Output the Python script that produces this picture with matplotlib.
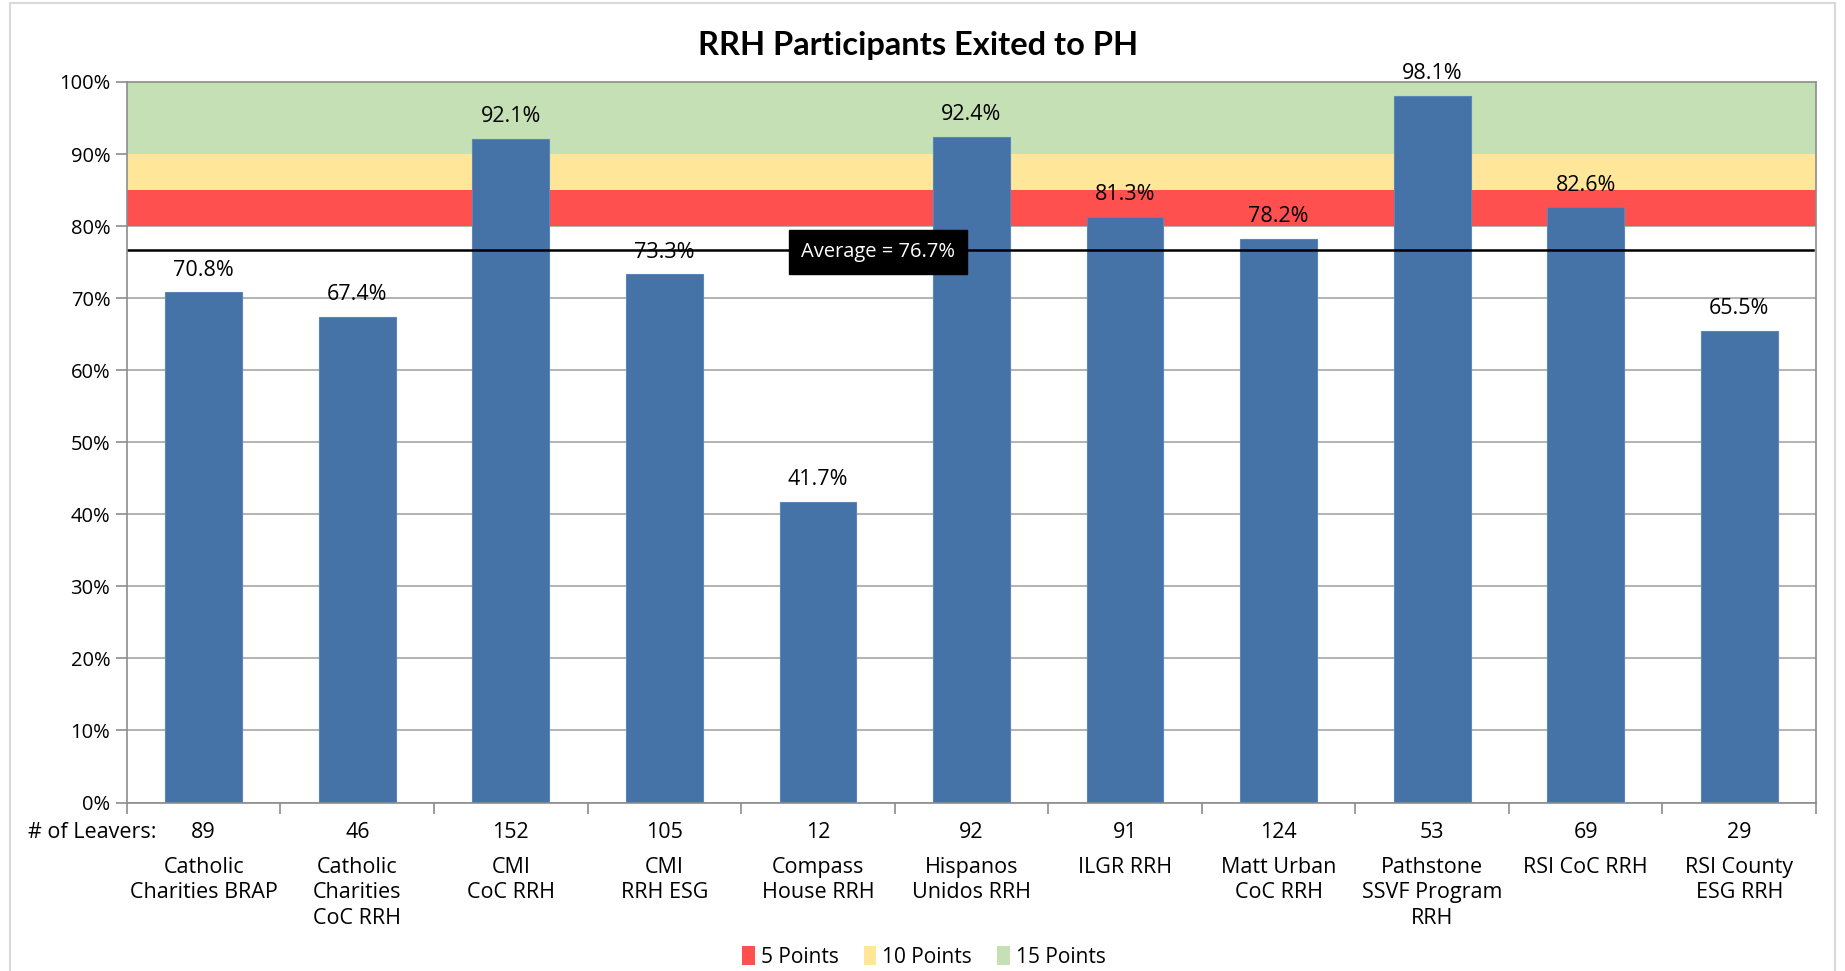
import matplotlib
matplotlib.use("Agg")
import matplotlib.pyplot as plt
from matplotlib.patches import Patch, Rectangle
from matplotlib.ticker import PercentFormatter, FixedLocator

categories = ["Catholic\nCharities BRAP", "Catholic\nCharities\nCoC RRH", "CMI\nCoC RRH",
              "CMI\nRRH ESG", "Compass\nHouse RRH", "Hispanos\nUnidos RRH", "ILGR RRH",
              "Matt Urban\nCoC RRH", "Pathstone\nSSVF Program\nRRH", "RSI CoC RRH",
              "RSI County\nESG RRH"]
values = [70.8, 67.4, 92.1, 73.3, 41.7, 92.4, 81.3, 78.2, 98.1, 82.6, 65.5]
leavers = [89, 46, 152, 105, 12, 92, 91, 124, 53, 69, 29]
average = 76.7
bands = [(80, 85, "5 Points"), (85, 90, "10 Points"), (90, 100, "15 Points")]
band_colors = ["#FF5050", "#FFE699", "#C5E0B4"]

FONT = "Open Sans"
plt.rcParams['font.family'] = [FONT, 'DejaVu Sans']

fig = plt.figure(figsize=(18.45, 9.71), dpi=100)
ax = fig.add_axes([0.0688, 0.1735, 0.9155, 0.7421])

# border around chart area
fig.patches.append(Rectangle((10/1845, -0.05), 1825/1845, 1.05 - 3/971,
                             transform=fig.transFigure, fill=False,
                             edgecolor="#D9D9D9", linewidth=1.5))

n = len(values)
ax.set_xlim(-0.5, n - 0.5)
ax.set_ylim(0, 100)

for (lo, hi, lab), c in zip(bands, band_colors):
    ax.axhspan(lo, hi, color=c, zorder=1, linewidth=0)

ax.set_axisbelow(True)
ax.yaxis.grid(True, color="#A6A6A6", linewidth=1.2, zorder=0.5)

bars = ax.bar(range(n), values, width=0.5, color="#4572A7", edgecolor="#5A86B8",
              linewidth=0.8, zorder=3)

for i, v in enumerate(values):
    ax.annotate(f"{v:.1f}%", (i, v), xytext=(0, 8.5), textcoords="offset points",
                ha="center", va="bottom", fontsize=15.5, color="black", zorder=5)

ax.axhline(average, xmin=0, xmax=0.998, color="black", linewidth=1.8, zorder=4)
ax.text(4.39, average - 0.3, f"Average = {average:.1f}%", ha="center", va="center",
        fontsize=14.5, color="white", zorder=6,
        bbox=dict(boxstyle="square,pad=0.6", facecolor="black", edgecolor="black"))

ax.yaxis.set_major_locator(FixedLocator(range(0, 101, 10)))
ax.yaxis.set_major_formatter(PercentFormatter(decimals=0))
ax.tick_params(axis="y", labelsize=14.5, length=8, color="#8C8C8C", width=1.2, pad=4)

ax.set_xticks(range(n))
ax.set_xticklabels(categories, fontsize=15.5, linespacing=1.28)
ax.tick_params(axis="x", which="major", length=0, pad=39)
ax.set_xticks([i + 0.5 for i in range(-1, n)], minor=True)
ax.tick_params(axis="x", which="minor", length=8, color="#8C8C8C", width=1.2)

for s in ax.spines.values():
    s.set_color("#8C8C8C")
    s.set_linewidth(1.2)
    s.set_zorder(4)

xt = ax.get_xaxis_transform()
for i, l in enumerate(leavers):
    ax.text(i, -0.042, str(l), transform=xt, ha="center", va="center", fontsize=15.5)
ax.text(-0.31, -0.042, "# of Leavers:", transform=xt, ha="right", va="center", fontsize=15.5)

fig.text(0.4976, 1 - 46/971, "RRH Participants Exited to PH", ha="center", va="center",
         fontsize=23.5, fontweight="bold", family=["Lato", "DejaVu Sans"])

handles = [Patch(facecolor=c, edgecolor="none", label=lab) for (lo, hi, lab), c in zip(bands, band_colors)]
fig.legend(handles=handles, loc="center", bbox_to_anchor=(0.5008, 1 - 957/971), ncol=3,
           frameon=False, fontsize=15, handlelength=0.6, handleheight=1.0,
           handletextpad=0.3, columnspacing=1.2)

fig.savefig("out.png", dpi=100)
